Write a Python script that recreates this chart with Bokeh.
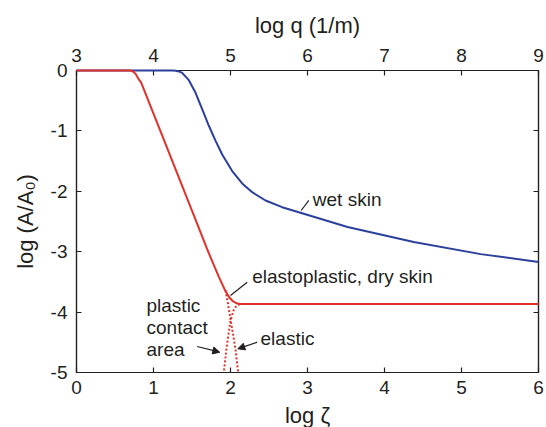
from bokeh.plotting import figure
from bokeh.models import Range1d, LinearAxis, FixedTicker, Arrow, NormalHead, ColumnDataSource
from bokeh.core.properties import value
from bokeh.embed import file_html
from bokeh.resources import INLINE

# ---- data ----
dry_x = [0.0, 0.70, 0.74, 0.77, 0.80, 0.84, 1.156, 1.524, 1.71, 1.85, 1.93, 1.98, 2.03, 2.08, 2.12, 6.0]
dry_y = [0.0, 0.0, -0.02, -0.06, -0.13, -0.20, -1.214, -2.40, -3.0, -3.42, -3.64, -3.75, -3.82, -3.855, -3.865, -3.865]

wet_x = [0.0, 1.25, 1.29, 1.33, 1.372, 1.459, 1.545, 1.632, 1.719, 1.805, 1.892, 2.022, 2.152, 2.282,
         2.455, 2.671, 2.887, 3.52, 4.38, 5.25, 6.0]
wet_y = [0.0, 0.0, -0.004, -0.015, -0.04, -0.16, -0.365, -0.64, -0.915, -1.16, -1.39, -1.665, -1.87, -2.015,
         -2.152, -2.263, -2.346, -2.59, -2.84, -3.04, -3.17]

elastic_x = [1.935, 1.97, 2.0, 2.035, 2.065, 2.10]
elastic_y = [-3.64, -3.88, -4.12, -4.38, -4.62, -5.0]

plastic_x = [2.12, 2.07, 2.04, 2.0, 1.95, 1.913]
plastic_y = [-3.865, -3.91, -3.97, -4.14, -4.58, -5.0]

x_ticks = [0, 1, 2, 3, 4, 5, 6]
y_ticks = [0, -1, -2, -3, -4, -5]
q_ticks = [3, 4, 5, 6, 7, 8, 9]

label_text = ["wet skin", "elastoplastic, dry skin", "elastic", "plastic", "contact", "area"]
label_x = [3.069, 2.282, 2.39, 0.909, 0.909, 0.909]
label_y = [-2.136, -3.414, -4.437, -3.884, -4.254, -4.614]

leader_x0 = [2.918, 2.0]
leader_y0 = [-2.318, -3.725]
leader_x1 = [3.017, 2.217]
leader_y1 = [-2.152, -3.505]

arrow_x_start = [1.567, 2.347]
arrow_y_start = [-4.570, -4.498]
arrow_x_end = [1.861, 2.095]
arrow_y_end = [-4.664, -4.608]

RED = "#e0312a"
BLUE = "#2b3f9c"
INK = "#231f20"
FONT = "Liberation Sans"

p = figure(frame_width=462, frame_height=302, output_backend="svg", toolbar_location=None,
           x_range=Range1d(0, 6), y_range=Range1d(-5, 0),
           min_border_left=76, min_border_right=8, min_border_top=70, min_border_bottom=55)
p.extra_x_ranges = {"q": Range1d(3, 9)}
p.grid.visible = False
p.outline_line_color = INK
p.outline_line_width = 1.2
p.background_fill_color = "white"
p.border_fill_color = "white"

def style(ax, ticks, labels=True):
    ax.ticker = FixedTicker(ticks=ticks)
    ax.major_label_overrides = {t: str(t) for t in ticks}
    ax.major_tick_in = 5
    ax.major_tick_out = 0
    ax.minor_tick_line_color = None
    ax.axis_line_color = INK
    ax.axis_line_width = 1.2
    ax.major_tick_line_color = INK
    ax.major_tick_line_width = 1.2
    ax.major_label_text_font = FONT
    ax.major_label_text_font_size = "19px" if labels else "1px"
    ax.major_label_text_color = INK if labels else None
    ax.axis_label_text_font = FONT
    ax.axis_label_text_font_size = "22px"
    ax.axis_label_text_font_style = "normal"
    ax.axis_label_text_color = INK

xa = p.xaxis[0]
style(xa, x_ticks)
xa.axis_label = "log ζ"
xa.major_label_standoff = 8
xa.axis_label_standoff = 6

ya = p.yaxis[0]
style(ya, y_ticks)
ya.axis_label = "log (A/A₀)"
ya.major_label_standoff = 9
ya.axis_label_standoff = 10

top = LinearAxis(x_range_name="q", axis_label="log q (1/m)")
style(top, q_ticks)
top.major_label_standoff = 9
top.axis_label_standoff = 8
p.add_layout(top, "above")

right = LinearAxis()
style(right, y_ticks, labels=False)
right.major_label_standoff = 0
p.add_layout(right, "right")

r1 = p.line(wet_x, wet_y, line_color=BLUE, line_width=2)
r2 = p.line(dry_x, dry_y, line_color=RED, line_width=2)
r1.level = "overlay"
r2.level = "overlay"
p.line(elastic_x, elastic_y, line_color=RED, line_width=2, line_dash="2 2")
p.line(plastic_x, plastic_y, line_color=RED, line_width=2, line_dash="2 2")

p.segment(x0=leader_x0, y0=leader_y0, x1=leader_x1, y1=leader_y1, line_color=INK, line_width=1.2)

arr_src = ColumnDataSource(dict(xs=arrow_x_start, ys=arrow_y_start, xe=arrow_x_end, ye=arrow_y_end))
p.add_layout(Arrow(source=arr_src, x_start="xs", y_start="ys", x_end="xe", y_end="ye",
                   line_color=INK, line_width=1.2,
                   end=NormalHead(size=7, fill_color=INK, line_color=INK, line_width=1)))

p.text(x=label_x, y=label_y, text=label_text, text_font=value(FONT), text_font_size="19px",
       text_color=INK, text_align="left", text_baseline="alphabetic")

open("out.html", "w").write(file_html(p, INLINE))
